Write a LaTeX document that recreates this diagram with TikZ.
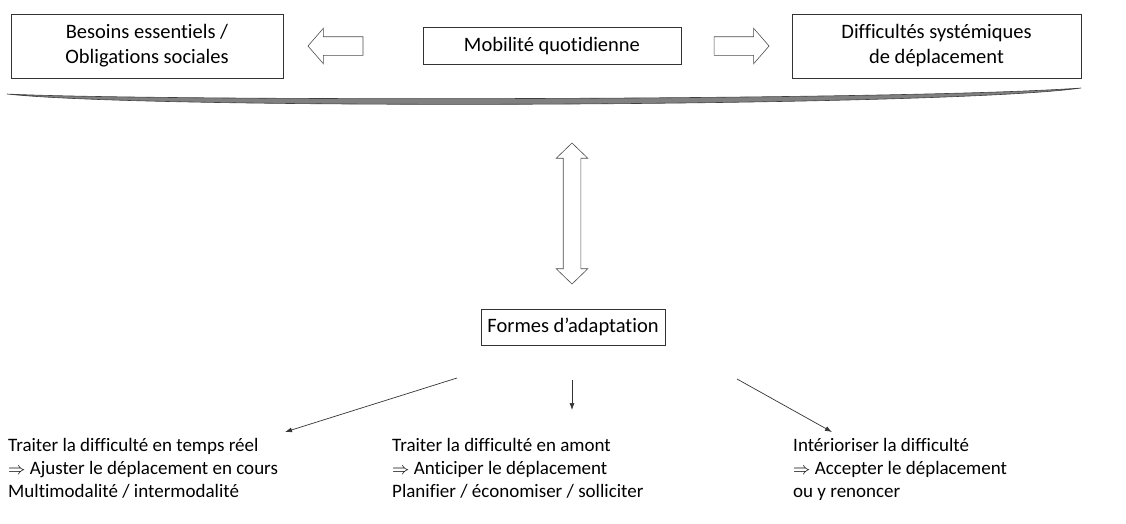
\documentclass[tikz,border=0pt]{standalone}
\usepackage{fontspec}
\setmainfont{Carlito}[Ligatures=NoCommon]
\usetikzlibrary{shapes.arrows,arrows.meta,positioning}

\begin{document}
\begin{tikzpicture}[x=1pt,y=-1pt,box/.style={draw=black!80, line width=0.8pt, align=center, inner sep=0, font=\fontsize{20.5}{25}\selectfont},hollow/.style={single arrow, draw=black!70, line width=0.6pt, minimum height=55, minimum width=35, inner xsep=0, inner ysep=9, single arrow head extend=8.5, single arrow tip angle=98},bothways/.style={double arrow, draw=black!70, line width=0.6pt, minimum height=141, minimum width=31, inner sep=8.5, double arrow head extend=7, double arrow tip angle=92},txt/.style={align=left, inner sep=0, font=\fontsize{19}{23}\selectfont},thin arrow/.style={draw=black!80, line width=0.7pt, -{Latex[length=7pt,width=5pt]}}]
\useasboundingbox (0,0) rectangle (1126,523);
% top row
\node[box, minimum width=272, minimum height=64] (besoins) at (147,46) {Besoins essentiels /\\Obligations sociales};
\node[box, minimum width=258, minimum height=37] (mobilite) at (552,46) {Mobilité quotidienne};
\node[box, minimum width=289, minimum height=64] (difficultes) at (936.5,46) {Difficultés systémiques\\de déplacement};
\node[hollow, shape border rotate=180] (versbesoins) at (339.5,46) {};
\node[hollow] (versdiff) at (737.5,46) {};
% band
\filldraw[fill=black!50, draw=black!75, line width=0.6pt] (7,94) .. controls (150,101) and (900,101) .. (1081,88) .. controls (950,107) and (150,110) .. cycle;
\node[bothways, shape border rotate=90] (aller) at (572,213.5) {};
\node[box, minimum width=184, minimum height=36] (formes) at (573,327) {Formes d’adaptation};
% bottom texts
\node[txt, anchor=north west] (reel) at (8,438) {Traiter la difficulté en temps réel\\$\Rightarrow$ Ajuster le déplacement en cours\\Multimodalité / intermodalité};
\node[txt, anchor=north west] (amont) at (392,438) {Traiter la difficulté en amont\\$\Rightarrow$ Anticiper le déplacement\\Planifier / économiser / solliciter};
\node[txt, anchor=north west] (interne) at (793,438) {Intérioriser la difficulté\\$\Rightarrow$ Accepter le déplacement\\ou y renoncer};
\coordinate (dep1) at (457,378);
\coordinate (fin1) at (285,432);
\coordinate (dep2) at (572,380);
\coordinate (fin2) at (572,410);
\coordinate (dep3) at (737,379);
\coordinate (fin3) at (832,432);
\draw[thin arrow] (dep1) -- (fin1);
\draw[thin arrow] (dep2) -- (fin2);
\draw[thin arrow] (dep3) -- (fin3);
\end{tikzpicture}
\end{document}
